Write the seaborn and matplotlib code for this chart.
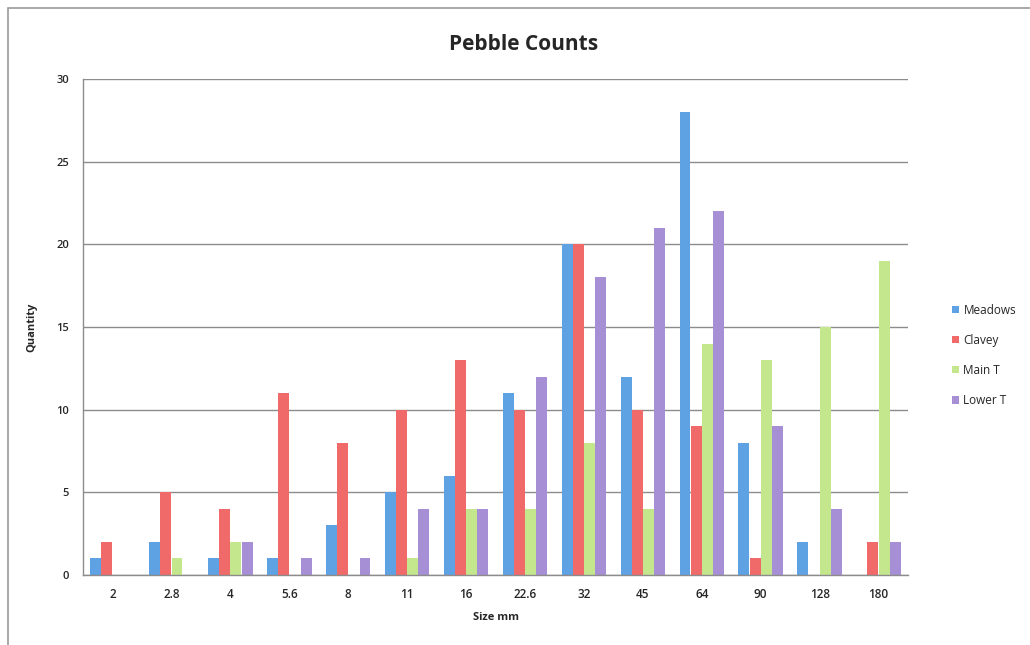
import pandas as pd
import matplotlib.pyplot as plt
import seaborn as sns
from matplotlib.patches import Rectangle

# pebble counts per size class
sizes = ["2", "2.8", "4", "5.6", "8", "11", "16", "22.6", "32", "45", "64", "90", "128", "180"]
meadows = [1, 2, 1, 1, 3, 5, 6, 11, 20, 12, 28, 8, 2, 0]
clavey = [2, 5, 4, 11, 8, 10, 13, 10, 20, 10, 9, 1, 0, 2]
main_t = [0, 1, 2, 0, 0, 1, 4, 4, 8, 4, 14, 13, 15, 19]
lower_t = [0, 0, 2, 1, 1, 4, 4, 12, 18, 21, 22, 9, 4, 2]

series = {"Meadows": meadows, "Clavey": clavey, "Main T": main_t, "Lower T": lower_t}
colors = ["#5ea2e4", "#f06a6a", "#c4e68c", "#a68fd4"]

rows = []
for name, vals in series.items():
    for s, v in zip(sizes, vals):
        rows.append({"Size": s, "Quantity": v, "Site": name})
df = pd.DataFrame(rows)

sns.set_style("white")
plt.rcParams['font.family'] = ['Open Sans', 'DejaVu Sans']

fig = plt.figure(figsize=(10.3, 6.45), dpi=100)
ax = fig.add_axes([0.0806, 0.1085, 0.801, 0.769])

sns.barplot(data=df, x="Size", y="Quantity", hue="Site", order=sizes,
            palette=colors, saturation=1, width=0.76, gap=0.02,
            linewidth=0, ax=ax, legend=True)

ax.set_ylim(0, 30)
ax.set_yticks(range(0, 31, 5))
ax.yaxis.grid(True, color="#8c8c8c", linewidth=1)
ax.set_axisbelow(True)
for side in ["top", "right"]:
    ax.spines[side].set_visible(False)
for side in ["left", "bottom"]:
    ax.spines[side].set_color("#8c8c8c")
    ax.spines[side].set_linewidth(1)
ax.tick_params(axis="y", length=4, color="#8c8c8c", labelsize=8, pad=6)
ax.tick_params(axis="x", length=0, labelsize=8.5, pad=9)
for lbl in ax.get_yticklabels() + ax.get_xticklabels():
    lbl.set_fontweight("semibold")

ax.set_xlabel("Size mm", fontsize=8, fontweight="bold", labelpad=8)
ax.set_ylabel("Quantity", fontsize=8, fontweight="bold", labelpad=14)
fig.suptitle("Pebble Counts", x=0.508, y=0.947, fontsize=15, fontweight="bold")

leg = ax.legend(loc="center left", bbox_to_anchor=(1.04, 0.443), frameon=False,
                fontsize=8.5, handlelength=0.6, handleheight=0.6,
                handletextpad=0.4, labelspacing=1.45)

# window frame edge
fig.patches.append(Rectangle((0.0078, -0.01), 1.0, 0.998, transform=fig.transFigure,
                             fill=False, edgecolor="#9a9a9a", linewidth=1.2))

fig.savefig("out.png", dpi=100)
